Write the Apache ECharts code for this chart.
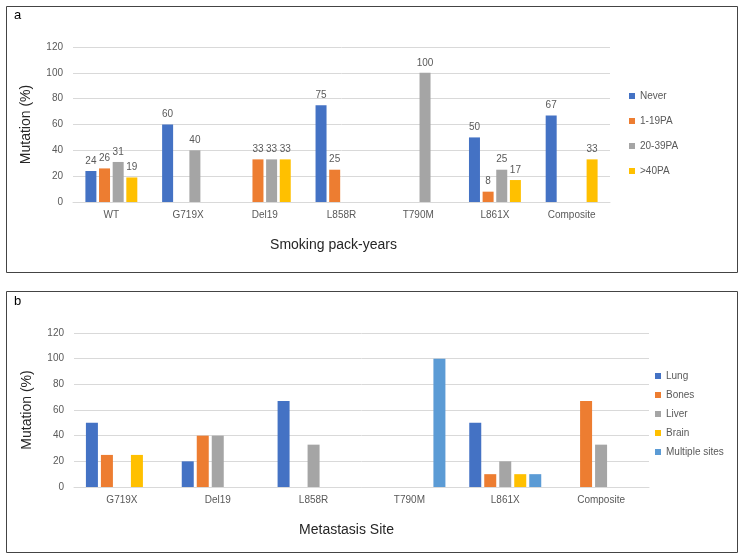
<!DOCTYPE html>
<html><head><meta charset="utf-8">
<script src="https://cdn.jsdelivr.net/npm/echarts@6/dist/echarts.min.js"></script>
<style>html,body{margin:0;padding:0;background:#fff}#c{width:744px;height:559px}</style>
</head><body><div id="c"></div>
<script>
// Panel a
const catsA = ['WT','G719X','Del19','L858R','T790M','L861X','Composite'];
const never   = [24, 60, null, 75, null, 50, 67];
const pa1_19  = [26, null, 33, 25, null, 8, null];
const pa20_39 = [31, 40, 33, null, 100, 25, null];
const pa40    = [19, null, 33, null, null, 17, 33];
// Panel b
const catsB = ['G719X','Del19','L858R','T790M','L861X','Composite'];
const lung  = [50, 20, 67, null, 50, null];
const bones = [25, 40, null, null, 10, 67];
const liver = [null, 40, 33, null, 20, 33];
const brain = [25, null, null, null, 10, null];
const multi = [null, null, null, 100, 10, null];
const yTicks = [0, 20, 40, 60, 80, 100, 120];

const FONT = 'Liberation Sans';
const C = {blue:'#4472C4', orange:'#ED7D31', gray:'#A5A5A5', yellow:'#FFC000', lblue:'#5B9BD5'};

function yAx(gi){
  return {type:'value', gridIndex:gi, min:yTicks[0], max:yTicks[yTicks.length-1], interval:yTicks[1]-yTicks[0],
    name:'Mutation (%)', nameLocation:'middle', nameRotate:90, nameGap:40,
    nameTextStyle:{fontFamily:FONT, fontSize:14, color:'#262626'},
    axisLine:{show:false}, axisTick:{show:false},
    axisLabel:{color:'#595959', fontSize:10, fontFamily:FONT, margin:10},
    splitLine:{lineStyle:{color:'#d9d9d9'}}};
}
function xAx(gi, cats, name, pad){
  return {type:'category', gridIndex:gi, data:cats,
    name:name, nameLocation:'middle', nameGap:36,
    nameTextStyle:{fontFamily:FONT, fontSize:14, color:'#262626', padding:[0,pad,0,0]},
    axisTick:{show:false}, axisLine:{lineStyle:{color:'#d9d9d9'}},
    axisLabel:{color:'#595959', fontSize:10, fontFamily:FONT, margin:8}};
}
function barA(name, data, color){
  return {type:'bar', name:name, data:data, xAxisIndex:0, yAxisIndex:0, barWidth:11, barGap:'24%',
    itemStyle:{color:color},
    label:{show:true, position:'top', distance:5, color:'#595959', fontSize:10, fontFamily:FONT}};
}
function barB(name, data, color){
  return {type:'bar', name:name, data:data, xAxisIndex:1, yAxisIndex:1, barWidth:12, barGap:'25%',
    itemStyle:{color:color}};
}

const chart = echarts.init(document.getElementById('c'), null, {renderer:'canvas'});
chart.setOption({
  animation:false,
  textStyle:{fontFamily:FONT},
  grid:[{left:73, right:134, top:47, bottom:357},
        {left:74, right:95, top:333, bottom:72}],
  xAxis:[xAx(0, catsA, 'Smoking pack-years', 16), xAx(1, catsB, 'Metastasis Site', 30)],
  yAxis:[yAx(0), yAx(1)],
  legend:[
    {orient:'vertical', left:629, top:90, padding:0, itemWidth:6, itemHeight:6, itemGap:13, icon:'rect',
     textStyle:{color:'#595959', fontSize:10, fontFamily:FONT, lineHeight:12},
     data:['Never','1-19PA','20-39PA','>40PA']},
    {orient:'vertical', left:655, top:370, padding:0, itemWidth:6, itemHeight:6, itemGap:7, icon:'rect',
     textStyle:{color:'#595959', fontSize:10, fontFamily:FONT, lineHeight:12},
     data:['Lung','Bones','Liver','Brain','Multiple sites']}
  ],
  graphic:[
    {type:'rect', shape:{x:6.5, y:6.5, width:731, height:266}, style:{fill:'none', stroke:'#444', lineWidth:1}},
    {type:'rect', shape:{x:6.5, y:291.5, width:731, height:261}, style:{fill:'none', stroke:'#444', lineWidth:1}},
    {type:'text', left:14, top:9, style:{text:'a', fontSize:13, fontFamily:FONT, fill:'#000'}},
    {type:'text', left:14, top:295, style:{text:'b', fontSize:13, fontFamily:FONT, fill:'#000'}}
  ],
  series:[
    barA('Never', never, C.blue),
    barA('1-19PA', pa1_19, C.orange),
    barA('20-39PA', pa20_39, C.gray),
    barA('>40PA', pa40, C.yellow),
    barB('Lung', lung, C.blue),
    barB('Bones', bones, C.orange),
    barB('Liver', liver, C.gray),
    barB('Brain', brain, C.yellow),
    barB('Multiple sites', multi, C.lblue)
  ]
});
</script></body></html>
